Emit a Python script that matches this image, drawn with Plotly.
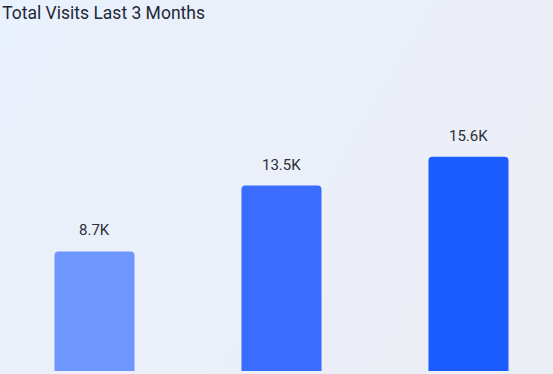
import plotly.graph_objects as go
import base64

categories = ["Month 1", "Month 2", "Month 3"]
visits_k = [8.7, 13.5, 15.6]
labels = ["8.7K", "13.5K", "15.6K"]
bar_colors = ["#6E96FF", "#3A6CFF", "#1A5CFF"]

svg = ('<svg xmlns="http://www.w3.org/2000/svg" width="553" height="374" preserveAspectRatio="none">'
       '<defs><linearGradient id="g" x1="0" y1="0" x2="1" y2="0.4">'
       '<stop offset="0" stop-color="#E9F1FC"/><stop offset="1" stop-color="#ECEEF6"/>'
       '</linearGradient></defs><rect width="553" height="374" fill="url(#g)"/></svg>')
bg_uri = "data:image/svg+xml;base64," + base64.b64encode(svg.encode()).decode()

fig = go.Figure()
fig.add_trace(go.Bar(
    x=categories, y=visits_k,
    marker=dict(color=bar_colors, line=dict(width=0)),
    width=0.428,
    hoverinfo="skip",
))
for c, v, t in zip(categories, visits_k, labels):
    fig.add_annotation(x=c, y=v, text=t, showarrow=False, yanchor="bottom",
                       yshift=10, font=dict(family="Roboto, Arial", size=15, color="#2b2f38"))

fig.update_layout(
    width=553, height=374,
    margin=dict(l=1, r=0, t=0, b=3),
    paper_bgcolor="#EBF0F9",
    plot_bgcolor="rgba(0,0,0,0)",
    barcornerradius=4,
    showlegend=False,
    images=[dict(source=bg_uri, xref="paper", yref="paper", x=-0.002, y=1.0,
                 sizex=1.002, sizey=1.009, xanchor="left", yanchor="top",
                 sizing="stretch", layer="below")],
    title=dict(text="Total Visits Last 3 Months", x=0.004, xanchor="left", y=0.982, yanchor="top",
               font=dict(family="Roboto, Arial", size=17.5, color="#1d2838")),
    xaxis=dict(visible=False, range=[-0.5, 2.452]),
    yaxis=dict(visible=False, range=[0, 27.0]),
)
fig.write_html("out.html", config={"displayModeBar": False},
               post_script="document.body.style.margin='0';document.body.style.background='#EBF0F9';")
